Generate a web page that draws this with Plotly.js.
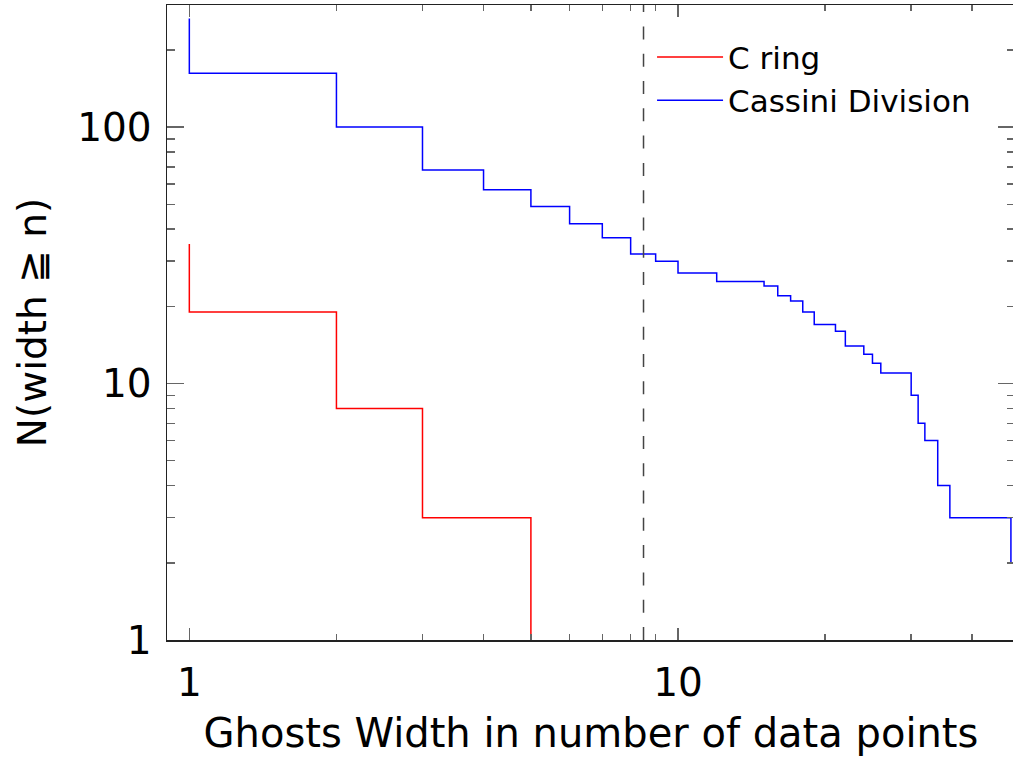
<!DOCTYPE html>
<html>
<head>
<meta charset="utf-8">
<script src="https://cdn.plot.ly/plotly-3.0.1.min.js"></script>
<style>
html, body { margin: 0; padding: 0; overflow: hidden; background: #fff; }
#chart { width: 1015px; height: 757px; }
</style>
</head>
<body>
<div id="chart"></div>
<script>
// Cumulative counts N(width >= n), drawn as steps
const cRingWidth = [1, 1, 2, 3, 5];
const cRingN = [35, 19, 8, 3, 1];

const cassiniWidth = [1, 1, 2, 3, 4, 5, 6, 7, 8, 9, 10, 12, 15, 16, 17, 18, 19, 21, 22, 24, 25, 26, 30, 31, 32, 34, 36, 48, 52];
const cassiniN = [265, 162, 100, 68, 57, 49, 42, 37, 32, 30, 27, 25, 24, 22, 21, 19, 17, 16, 14, 13, 12, 11, 9, 7, 6, 4, 3, 2, 2];

const thresholdWidth = 8.5;

const seriesNames = ["C ring", "Cassini Division"];
const xTitle = "Ghosts Width in number of data points";
const yTitle = "N(width \u2267 n)";

const FONT = "DejaVu Sans, sans-serif";

const traces = [
  {
    x: cRingWidth, y: cRingN, name: seriesNames[0],
    type: "scatter", mode: "lines",
    line: { shape: "hv", color: "#ff0000", width: 1.5 }
  },
  {
    x: cassiniWidth, y: cassiniN, name: seriesNames[1],
    type: "scatter", mode: "lines",
    line: { shape: "hv", color: "#0000ff", width: 1.5 }
  }
];

const layout = {
  width: 1015, height: 757,
  margin: { l: 167, r: 0, t: 5, b: 117 },
  paper_bgcolor: "#fff", plot_bgcolor: "#fff",
  font: { family: FONT, color: "#000", size: 39 },
  showlegend: true,
  legend: {
    x: 0.572, y: 0.96, xanchor: "left", yanchor: "top",
    bgcolor: "rgba(0,0,0,0)", borderwidth: 0,
    font: { family: FONT, size: 31, color: "#000" },
    itemwidth: 66, tracegroupgap: 0
  },
  xaxis: {
    type: "log",
    range: [-0.0457, 1.6896],
    dtick: 1,
    showgrid: false, zeroline: false,
    showline: true, linecolor: "#222", linewidth: 1.5, mirror: "ticks",
    ticks: "inside", ticklen: 12, tickwidth: 1.5, tickcolor: "#666",
    minor: { ticks: "inside", ticklen: 6, tickwidth: 1.5, tickcolor: "#666", dtick: "D1", showgrid: false },
    tickfont: { family: FONT, size: 39 },
    ticklabelstandoff: 8,
    title: { text: xTitle, font: { family: FONT, size: 40 }, standoff: 14 }
  },
  yaxis: {
    type: "log",
    range: [0, 2.476],
    dtick: 1,
    showgrid: false, zeroline: false,
    showline: true, linecolor: "#222", linewidth: 1.5, mirror: "ticks",
    ticks: "inside", ticklen: 17, tickwidth: 1.5, tickcolor: "#666",
    minor: { ticks: "inside", ticklen: 8, tickwidth: 1.5, tickcolor: "#666", dtick: "D1", showgrid: false },
    tickfont: { family: FONT, size: 39 },
    ticklabelstandoff: 6,
    title: { text: yTitle, font: { family: FONT, size: 39 }, standoff: 18 }
  },
  shapes: [
    {
      type: "line", xref: "x", yref: "paper",
      x0: thresholdWidth, x1: thresholdWidth, y0: 0, y1: 1,
      line: { color: "#444", width: 1.5, dash: "13px,14.3px" }
    }
  ]
};

Plotly.newPlot("chart", traces, layout, { displayModeBar: false, staticPlot: true });
</script>
</body>
</html>
